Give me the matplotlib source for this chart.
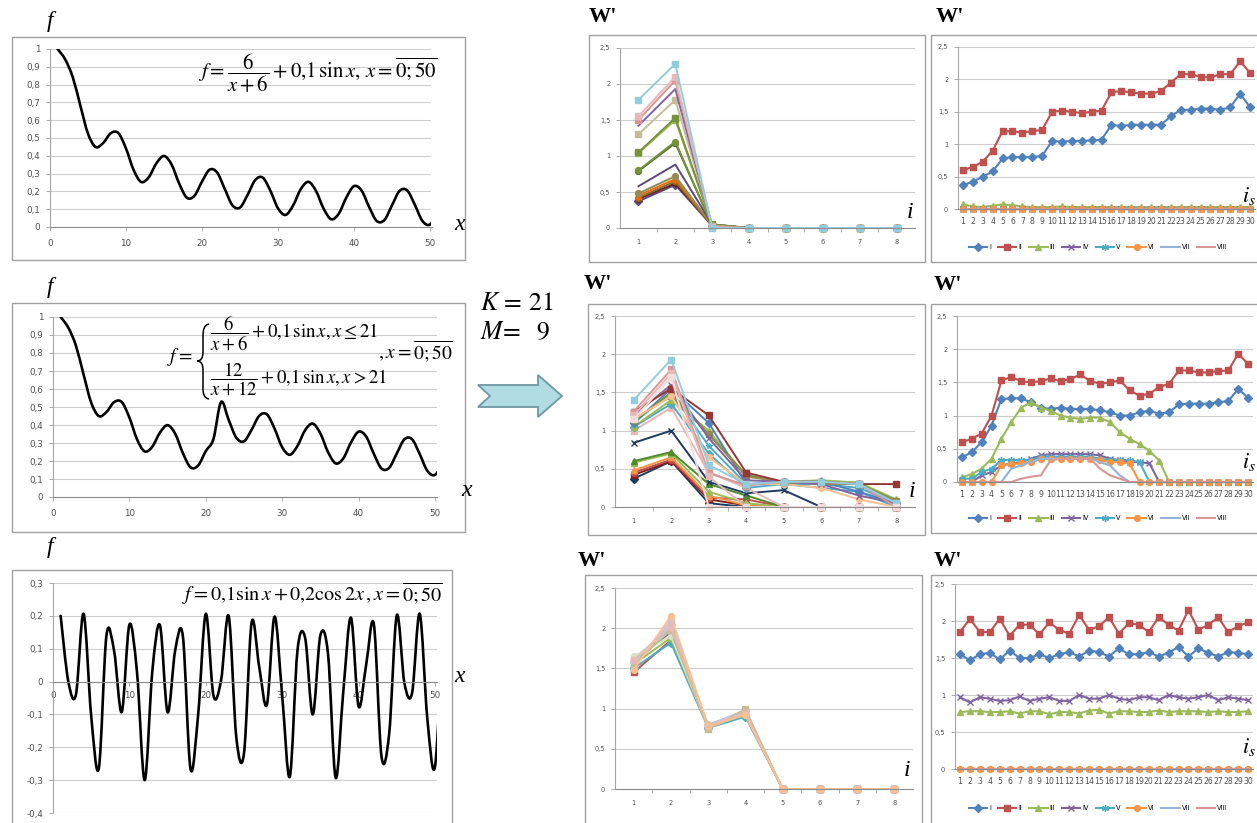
import numpy as np
import matplotlib
matplotlib.use("Agg")
import matplotlib.pyplot as plt
from matplotlib.path import Path
from matplotlib.patches import PathPatch, Rectangle, Polygon
from matplotlib.ticker import FuncFormatter

plt.rcParams['mathtext.fontset'] = 'stix'
plt.rcParams['font.family'] = ['DejaVu Sans']

# ---------------- data ----------------
# left column: f sampled at x = 0..50 (drawn at category positions 1..51)
x_vals = list(range(0, 51))
f_top = [1.0000, 0.9413, 0.8409, 0.6808, 0.5243, 0.4496, 0.4721, 0.5272, 0.5275, 0.4412,
         0.3206, 0.2529, 0.2797, 0.3578, 0.3991, 0.3507, 0.2440, 0.1647, 0.1749, 0.2550,
         0.3221, 0.3059, 0.2134, 0.1223, 0.1094, 0.1803, 0.2638, 0.2774, 0.2036, 0.1050,
         0.0679, 0.1218, 0.2130, 0.2538, 0.2029, 0.1035, 0.0437, 0.0751, 0.1660, 0.2297,
         0.2049, 0.1118, 0.0333, 0.0392, 0.1218, 0.2027, 0.2056, 0.1256, 0.0343, 0.0137,
         0.0809]
f_mid = [1.0000, 0.9413, 0.8409, 0.6808, 0.5243, 0.4496, 0.4721, 0.5272, 0.5275, 0.4412,
         0.3206, 0.2529, 0.2797, 0.3578, 0.3991, 0.3507, 0.2440, 0.1647, 0.1749, 0.2550,
         0.3221, 0.5281, 0.4277, 0.3292, 0.3094, 0.3739, 0.4513, 0.4592, 0.3800, 0.2765,
         0.2345, 0.2839, 0.3709, 0.4077, 0.3529, 0.2499, 0.1865, 0.2147, 0.3023, 0.3631,
         0.3354, 0.2394, 0.1583, 0.1617, 0.2418, 0.3204, 0.3210, 0.2388, 0.1454, 0.1228,
         0.1881]
f_bot = [0.2000, 0.0009, -0.0398, 0.2062, -0.1048, -0.2637, 0.1409, 0.0930, -0.0927, 0.1733,
         0.0272, -0.3000, 0.0311, 0.1714, -0.0934, 0.0958, 0.1380, -0.2658, -0.1007, 0.2060,
         -0.0421, 0.0037, 0.1991, -0.1710, -0.2186, 0.1798, 0.0437, -0.0703, 0.1977, -0.0425,
         -0.2893, 0.0943, 0.1335, -0.0999, 0.1409, 0.0839, -0.2927, -0.0300, 0.1945, -0.0753,
         0.0524, 0.1740, -0.2277, -0.1600, 0.2017, -0.0045, -0.0351, 0.2063, -0.1129, -0.2593,
         0.1463]
x_ticks_left = [0, 10, 20, 30, 40, 50]
y_ticks_top = [0, 0.1, 0.2, 0.3, 0.4, 0.5, 0.6, 0.7, 0.8, 0.9, 1.0]
y_ticks_bot = [-0.4, -0.3, -0.2, -0.1, 0, 0.1, 0.2, 0.3]

# middle column: W' by component i = 1..8
i_cats = [1, 2, 3, 4, 5, 6, 7, 8]
w_ticks = [0, 0.5, 1.0, 1.5, 2.0, 2.5]
mid_top = [
    [0.37, 0.60, 0.03, 0, 0, 0, 0, 0],
    [0.40, 0.62, 0.04, 0, 0, 0, 0, 0],
    [0.42, 0.65, 0.03, 0, 0, 0, 0, 0],
    [0.45, 0.68, 0.05, 0, 0, 0, 0, 0],
    [0.48, 0.72, 0.04, 0, 0, 0, 0, 0],
    [0.58, 0.88, 0.05, 0, 0, 0, 0, 0],
    [0.79, 1.18, 0.04, 0, 0, 0, 0, 0],
    [0.80, 1.20, 0.03, 0, 0, 0, 0, 0],
    [1.04, 1.50, 0.04, 0, 0, 0, 0, 0],
    [1.05, 1.53, 0.05, 0, 0, 0, 0, 0],
    [1.30, 1.78, 0.03, 0, 0, 0, 0, 0],
    [1.42, 1.93, 0.02, 0, 0, 0, 0, 0],
    [1.50, 2.05, 0.02, 0, 0, 0, 0, 0],
    [1.55, 2.10, 0.01, 0, 0, 0, 0, 0],
    [1.78, 2.28, 0.00, 0, 0, 0, 0, 0],
]
mid_mid = [
    [0.37, 0.60, 0.05, 0.00, 0.00, 0.00, 0.00, 0.00],
    [0.42, 0.60, 0.10, 0.02, 0.00, 0.00, 0.00, 0.00],
    [0.45, 0.62, 0.12, 0.10, 0.00, 0.00, 0.00, 0.00],
    [0.48, 0.65, 0.15, 0.02, 0.00, 0.00, 0.00, 0.00],
    [0.58, 0.70, 0.20, 0.05, 0.00, 0.00, 0.00, 0.00],
    [0.60, 0.72, 0.30, 0.15, 0.00, 0.00, 0.00, 0.00],
    [0.84, 1.00, 0.33, 0.18, 0.22, 0.00, 0.00, 0.00],
    [1.00, 1.30, 0.45, 0.25, 0.00, 0.00, 0.00, 0.00],
    [1.05, 1.35, 0.70, 0.25, 0.30, 0.30, 0.25, 0.05],
    [1.05, 1.40, 1.00, 0.40, 0.33, 0.35, 0.32, 0.10],
    [1.10, 1.50, 0.80, 0.30, 0.30, 0.25, 0.20, 0.00],
    [1.10, 1.55, 1.10, 0.30, 0.33, 0.33, 0.20, 0.05],
    [1.12, 1.50, 0.95, 0.42, 0.32, 0.32, 0.30, 0.08],
    [1.15, 1.45, 0.95, 0.40, 0.33, 0.30, 0.30, 0.08],
    [1.15, 1.45, 0.65, 0.30, 0.30, 0.25, 0.10, 0.00],
    [1.20, 1.60, 0.90, 0.35, 0.33, 0.30, 0.15, 0.05],
    [1.25, 1.55, 1.20, 0.45, 0.33, 0.33, 0.30, 0.30],
    [1.25, 1.80, 0.45, 0.28, 0.33, 0.33, 0.30, 0.00],
    [1.40, 1.93, 0.55, 0.30, 0.33, 0.33, 0.30, 0.05],
    [1.20, 1.75, 0.40, 0.00, 0.00, 0.00, 0.00, 0.00],
    [1.15, 1.70, 0.00, 0.00, 0.00, 0.00, 0.00, 0.00],
]
mid_bot = [
    [1.45, 1.85, 0.78, 0.92, 0, 0, 0, 0],
    [1.50, 1.82, 0.76, 0.90, 0, 0, 0, 0],
    [1.55, 1.88, 0.77, 0.93, 0, 0, 0, 0],
    [1.60, 1.95, 0.78, 0.95, 0, 0, 0, 0],
    [1.62, 2.00, 0.80, 0.97, 0, 0, 0, 0],
    [1.58, 2.05, 0.79, 0.98, 0, 0, 0, 0],
    [1.65, 1.90, 0.77, 0.96, 0, 0, 0, 0],
    [1.52, 2.10, 0.76, 0.94, 0, 0, 0, 0],
    [1.55, 1.98, 0.75, 0.99, 0, 0, 0, 0],
    [1.60, 2.02, 0.79, 0.95, 0, 0, 0, 0],
    [1.48, 2.15, 0.78, 0.92, 0, 0, 0, 0],
]

# right column: W' of components I..VIII by window i_s = 1..30
is_cats = list(range(1, 31))
series_names = ['I', 'II', 'III', 'IV', 'V', 'VI', 'VII', 'VIII']
zeros30 = [0, 0, 0, 0, 0, 0, 0, 0, 0, 0, 0, 0, 0, 0, 0, 0, 0, 0, 0, 0, 0, 0, 0, 0, 0, 0, 0, 0, 0, 0]
r1_I = [0.37, 0.42, 0.50, 0.58, 0.78, 0.80, 0.80, 0.80, 0.82, 1.05, 1.04, 1.05, 1.05, 1.06, 1.07,
        1.30, 1.28, 1.30, 1.30, 1.30, 1.30, 1.43, 1.53, 1.53, 1.55, 1.55, 1.53, 1.57, 1.78, 1.57]
r1_II = [0.60, 0.65, 0.73, 0.90, 1.20, 1.20, 1.18, 1.20, 1.22, 1.50, 1.52, 1.50, 1.48, 1.50, 1.52,
         1.80, 1.82, 1.80, 1.78, 1.78, 1.82, 1.95, 2.08, 2.08, 2.04, 2.03, 2.08, 2.08, 2.28, 2.10]
r1_III = [0.07, 0.04, 0.03, 0.05, 0.07, 0.06, 0.04, 0.03, 0.03, 0.03, 0.04, 0.03, 0.03, 0.03, 0.03,
          0.03, 0.03, 0.03, 0.03, 0.03, 0.03, 0.03, 0.03, 0.03, 0.03, 0.03, 0.03, 0.03, 0.03, 0.03]
r2_I = [0.37, 0.45, 0.60, 0.85, 1.25, 1.26, 1.26, 1.20, 1.12, 1.10, 1.12, 1.10, 1.10, 1.10, 1.08,
        1.05, 1.00, 1.00, 1.05, 1.07, 1.03, 1.05, 1.17, 1.18, 1.18, 1.18, 1.20, 1.22, 1.40, 1.27]
r2_II = [0.60, 0.65, 0.73, 1.00, 1.53, 1.58, 1.52, 1.50, 1.52, 1.56, 1.52, 1.55, 1.62, 1.52, 1.48,
         1.50, 1.53, 1.38, 1.30, 1.33, 1.43, 1.48, 1.68, 1.68, 1.65, 1.65, 1.67, 1.68, 1.93, 1.78]
r2_III = [0.07, 0.12, 0.20, 0.35, 0.65, 0.90, 1.12, 1.20, 1.12, 1.07, 1.00, 0.97, 0.95, 0.97, 0.97,
          0.90, 0.75, 0.65, 0.57, 0.47, 0.32, 0, 0, 0, 0, 0, 0, 0, 0, 0]
r2_IV = [0, 0, 0.10, 0.15, 0.25, 0.28, 0.30, 0.35, 0.40, 0.42, 0.42, 0.42, 0.42, 0.42, 0.40,
         0.35, 0.33, 0.30, 0.30, 0.28, 0, 0, 0, 0, 0, 0, 0, 0, 0, 0]
r2_V = [0.05, 0.05, 0.15, 0.20, 0.33, 0.33, 0.33, 0.33, 0.38, 0.38, 0.38, 0.38, 0.38, 0.38, 0.35,
        0.33, 0.33, 0.33, 0.30, 0, 0, 0, 0, 0, 0, 0, 0, 0, 0, 0]
r2_VI = [0, 0, 0, 0, 0.25, 0.27, 0.28, 0.30, 0.35, 0.35, 0.35, 0.35, 0.35, 0.35, 0.33,
         0.30, 0.30, 0.28, 0, 0, 0, 0, 0, 0, 0, 0, 0, 0, 0, 0]
r2_VII = [0, 0, 0, 0, 0, 0.20, 0.25, 0.30, 0.35, 0.35, 0.35, 0.35, 0.35, 0.35, 0.30,
          0.25, 0.10, 0, 0, 0, 0, 0, 0, 0, 0, 0, 0, 0, 0, 0]
r2_VIII = [0, 0, 0, 0, 0, 0, 0.05, 0.08, 0.10, 0.33, 0.35, 0.35, 0.35, 0.35, 0.20,
           0.10, 0.05, 0, 0, 0, 0, 0, 0, 0, 0, 0, 0, 0, 0, 0]
r3_I = [1.55, 1.47, 1.55, 1.57, 1.48, 1.60, 1.50, 1.50, 1.55, 1.50, 1.55, 1.58, 1.52, 1.60, 1.58,
        1.52, 1.63, 1.55, 1.55, 1.58, 1.52, 1.57, 1.65, 1.52, 1.63, 1.57, 1.52, 1.58, 1.57, 1.55]
r3_II = [1.85, 2.03, 1.85, 1.85, 2.03, 1.80, 1.95, 1.95, 1.82, 1.98, 1.88, 1.83, 2.08, 1.88, 1.93,
         2.05, 1.83, 1.97, 1.95, 1.85, 2.05, 1.95, 1.87, 2.15, 1.88, 1.95, 2.05, 1.85, 1.93, 1.98]
r3_III = [0.77, 0.78, 0.78, 0.77, 0.77, 0.78, 0.75, 0.78, 0.78, 0.74, 0.77, 0.77, 0.75, 0.79, 0.80,
          0.75, 0.78, 0.78, 0.77, 0.77, 0.79, 0.77, 0.78, 0.78, 0.78, 0.77, 0.78, 0.77, 0.77, 0.78]
r3_IV = [0.97, 0.90, 0.97, 0.95, 0.92, 0.93, 0.98, 0.92, 0.95, 0.97, 0.92, 0.92, 1.00, 0.95, 0.95,
         1.00, 0.95, 0.93, 0.97, 0.97, 0.93, 1.00, 0.97, 0.95, 0.97, 1.00, 0.93, 0.97, 0.95, 0.93]

right_top = [r1_I, r1_II, r1_III, zeros30, zeros30, zeros30, zeros30, zeros30]
right_mid = [r2_I, r2_II, r2_III, r2_IV, r2_V, r2_VI, r2_VII, r2_VIII]
right_bot = [r3_I, r3_II, r3_III, r3_IV, zeros30, zeros30, zeros30, zeros30]

# ---------------- figure helpers ----------------
W, H = 1257, 823
fig = plt.figure(figsize=(W / 100, H / 100), dpi=100)
fig.patch.set_facecolor('white')


def fx(px):
    return px / W


def fy(py):
    return 1 - py / H


def add_ax(x0, y0, x1, y1):
    return fig.add_axes([fx(x0), fy(y1), (x1 - x0) / W, (y1 - y0) / H])


def frame(x0, y0, x1, y1):
    fig.patches.append(Rectangle((fx(x0), fy(y1)), (x1 - x0) / W, (y1 - y0) / H,
                                 transform=fig.transFigure, fill=False,
                                 ec='#A0A0A0', lw=1.0, zorder=0))


def ftext(px, py, s, **kw):
    return fig.text(fx(px), fy(py), s, **kw)


comma_fmt = FuncFormatter(lambda v, p: ('%g' % round(v, 3)).replace('.', ','))


def excel_style(ax, fs):
    for s in ['top', 'right']:
        ax.spines[s].set_visible(False)
    ax.spines['left'].set_color('#A6A6A6')
    ax.spines['bottom'].set_color('#8C8C8C')
    ax.spines['left'].set_linewidth(0.8)
    ax.spines['bottom'].set_linewidth(0.8)
    ax.grid(axis='y', color='#CDCDCD', lw=0.8)
    ax.set_axisbelow(True)
    ax.tick_params(labelsize=fs, colors='#A0A0A0', labelcolor='#505050',
                   length=3, width=0.6, pad=4)
    ax.yaxis.set_major_formatter(comma_fmt)
    ax.patch.set_alpha(0)


def smooth_path(xs, ys):
    verts = [(xs[0], ys[0])]
    codes = [Path.MOVETO]
    n = len(xs)
    for k in range(n - 1):
        a = k - 1 if k > 0 else k
        d = k + 2 if k + 2 < n else k + 1
        c1 = (xs[k] + (xs[k + 1] - xs[a]) / 6.0, ys[k] + (ys[k + 1] - ys[a]) / 6.0)
        c2 = (xs[k + 1] - (xs[d] - xs[k]) / 6.0, ys[k + 1] - (ys[d] - ys[k]) / 6.0)
        verts += [c1, c2, (xs[k + 1], ys[k + 1])]
        codes += [Path.CURVE4] * 3
    return Path(verts, codes)


serif_it = dict(family='Liberation Serif', style='italic', color='black')

# ---------------- left column ----------------
left_specs = [
    (f_top, (12, 37, 465, 260), (50, 49, 431.5, 227), (0, 1), y_ticks_top, (50, 22), (460, 224)),
    (f_mid, (12, 303, 465, 532), (53, 317, 436.5, 497), (0, 1), y_ticks_top, (50, 288), (467, 490)),
    (f_bot, (12, 570, 452, 840), (53, 583, 436.5, 813), (-0.4, 0.3), y_ticks_bot, (50, 547), (460, 677)),
]
for vals, fr, box, ylim, yt, fpos, xpos in left_specs:
    frame(*fr)
    ax = add_ax(*box)
    excel_style(ax, 6.3)
    ax.set_xlim(0, 50.2)
    ax.set_ylim(*ylim)
    ax.set_yticks(yt)
    ax.set_xticks(x_ticks_left)
    ax.tick_params(axis='x', pad=6)
    pos = [v + 1 for v in x_vals]
    ax.add_patch(PathPatch(smooth_path(pos, vals), fill=False, ec='black', lw=1.9,
                           capstyle='round', joinstyle='round'))
    ftext(fpos[0], fpos[1], 'f', size=17, ha='center', va='center', **serif_it)
    ftext(xpos[0], xpos[1], 'x', size=17, ha='center', va='center', **serif_it)
    if ylim[0] < 0:
        ax.spines['bottom'].set_position(('data', 0))
        ax.tick_params(axis='x', length=3, pad=4)

# formulas
ftext(437, 73, r"$f=\dfrac{6}{x+6}+0{,}1\,\sin x,\, x=\overline{0;50}$",
      size=15, ha='right', va='center')
ftext(192, 357, r"$f=$", size=14, ha='right', va='center')
# curly brace of the piecewise definition (pixel coordinates)
brace_px = [(209, 324), (204, 325), (203, 330), (203, 336),
            (203, 352),
            (203, 358), (201, 361), (197, 361),
            (201, 361), (203, 364), (203, 370),
            (203, 388),
            (203, 394), (204, 398), (209, 399)]
brace_codes = [Path.MOVETO, Path.CURVE4, Path.CURVE4, Path.CURVE4,
               Path.LINETO,
               Path.CURVE4, Path.CURVE4, Path.CURVE4,
               Path.CURVE4, Path.CURVE4, Path.CURVE4,
               Path.LINETO,
               Path.CURVE4, Path.CURVE4, Path.CURVE4]
fig.patches.append(PathPatch(Path([(fx(a), fy(b)) for a, b in brace_px], brace_codes),
                             transform=fig.transFigure, fill=False, ec='black', lw=1.1))
ftext(210, 333, r"$\dfrac{6}{x+6}+0{,}1\,\sin x, x\leq 21$", size=13.5, ha='left', va='center')
ftext(210, 379, r"$\dfrac{12}{x+12}+0{,}1\,\sin x, x>21$", size=13.5, ha='left', va='center')
ftext(378, 352, r"$,x=\overline{0;50}$", size=14, ha='left', va='center')
ftext(443, 594, r"$f=0{,}1\sin x+0{,}2\cos 2x\,,x=\overline{0;50}$", size=14.5,
      ha='right', va='center')

# K, M and arrow
ftext(480, 303, r"$K\,=\,21$", size=18.5, ha='left', va='center')
ftext(480, 332, r"$M\!=\ \ 9$", size=18.5, ha='left', va='center')
arrow_px = [(478, 385), (538, 385), (538, 375), (562, 396), (538, 417), (538, 407),
            (478, 407), (490, 396)]
fig.patches.append(Polygon([(fx(a), fy(b)) for a, b in arrow_px], closed=True,
                           transform=fig.transFigure, fc='#B2DCE4', ec='#6F97A2', lw=1.3))

# ---------------- middle column ----------------
top_colors = ['#604A7B', '#632523', '#8B6A2B', '#E46C0A', '#948A54', '#5F497A', '#4F6228',
              '#77933C', '#9BBB59', '#76923C', '#C4BD97', '#8064A2', '#D99694', '#E6B9B8', '#93CDDD']
top_markers = ['D', 'o', 'o', '^', 'o', None, 'o', 'o', 's', 's', 's', None, 's', 's', 's']
mid_colors = ['#1F3A60', '#7F1F1F', '#C0504D', '#F79646', '#9BBB59', '#4F8A2B', '#1F3A60',
              '#E6B9B8', '#4BACC6', '#9BBB59', '#4BACC6', '#4F81BD', '#77933C', '#948A54',
              '#FAC090', '#8064A2', '#953735', '#D99694', '#93CDDD', '#E6B9B8', '#F2DCDB']
mid_markers = ['D', 's', 'o', '^', '^', '^', 'x', 's', 'D', '^', '*', 'D', 'o', 's', 'o', 'x',
               's', 's', 's', 's', 's']
bot_colors = ['#C0504D', '#4BACC6', '#9BBB59', '#8064A2', '#93CDDD', '#B9CDE5', '#D7E4BD',
              '#CCC1DA', '#C4BD97', '#E6B9B8', '#FAC090']
bot_markers = ['s', 'D', '^', 'x', 's', 'D', 'o', 's', 's', 's', 'o']

mid_specs = [
    (mid_top, top_colors, top_markers, (589, 35, 925, 262), (620, 48, 915, 228), (603, 17), (910, 213)),
    (mid_mid, mid_colors, mid_markers, (588, 304, 925, 535), (615, 316, 915, 507), (598, 284), (912, 492)),
    (mid_bot, bot_colors, bot_markers, (585, 575, 922, 840), (615, 588, 913, 789), (592, 561), (907, 771)),
]
for data, cols, marks, fr, box, wpos, ipos in mid_specs:
    frame(*fr)
    ax = add_ax(*box)
    excel_style(ax, 4.8)
    ax.set_xlim(0.5, 8.5)
    ax.set_ylim(0, 2.5)
    ax.set_yticks(w_ticks)
    ax.set_xticks(i_cats)
    ax.set_xticks([c + 0.5 for c in i_cats[:-1]], minor=True)
    ax.tick_params(axis='x', which='major', length=0, pad=8)
    ax.tick_params(axis='x', which='minor', length=3, color='#A0A0A0')
    for k, row in enumerate(data):
        ax.plot(i_cats, row, color=cols[k], lw=1.4, marker=marks[k], ms=4.2,
                mec=cols[k], mfc=cols[k], mew=1.0, clip_on=False)
    ftext(wpos[0], wpos[1], "W'", family='Liberation Serif', weight='bold', size=16,
          ha='center', va='center')
    ftext(ipos[0], ipos[1], 'i', size=17, ha='center', va='center', **serif_it)

# ---------------- right column ----------------
r_colors = ['#4F81BD', '#C0504D', '#9BBB59', '#8064A2', '#4BACC6', '#F79646', '#95B3D7', '#D99694']
r_markers = ['D', 's', '^', 'x', (6, 2, 0), 'o', None, None]
r_ms = [3.8, 5.0, 4.2, 4.5, 5.0, 4.2, 0, 0]

right_specs = [
    (right_top, (931, 35, 1265, 262), (958, 47, 1255, 209), (950, 17), (1256, 196), 247),
    (right_mid, (931, 304, 1265, 533), (957, 316, 1253, 482), (948, 285), (1256, 462), 518),
    (right_bot, (931, 575, 1265, 840), (955, 584, 1253, 769), (948, 561), (1256, 747), 808),
]
for data, fr, box, wpos, ipos, leg_y in right_specs:
    frame(*fr)
    ax = add_ax(*box)
    excel_style(ax, 4.8)
    ax.set_xlim(0.5, 30.5)
    ax.set_ylim(0, 2.5)
    ax.set_yticks(w_ticks)
    ax.set_xticks(is_cats)
    ax.set_xticklabels([str(c) for c in is_cats], fontsize=5.6)
    ax.tick_params(axis='x', which='major', length=0, pad=6)
    handles = []
    for k, row in enumerate(data):
        ln, = ax.plot(is_cats, row, color=r_colors[k], lw=1.5, marker=r_markers[k],
                      ms=r_ms[k], mec=r_colors[k], mfc=r_colors[k], mew=1.0, clip_on=False)
        handles.append(ln)
    fig.legend(handles, series_names, loc='center', bbox_to_anchor=(fx(1098), fy(leg_y)),
               ncol=8, fontsize=4.8, frameon=False, handlelength=2.8, columnspacing=1.0,
               handletextpad=0.3, borderpad=0.1)
    ftext(wpos[0], wpos[1], "W'", family='Liberation Serif', weight='bold', size=16,
          ha='center', va='center')
    ftext(ipos[0], ipos[1], r'$i_s$', size=16, ha='right', va='center')

fig.savefig('out.png', dpi=100, facecolor='white')
